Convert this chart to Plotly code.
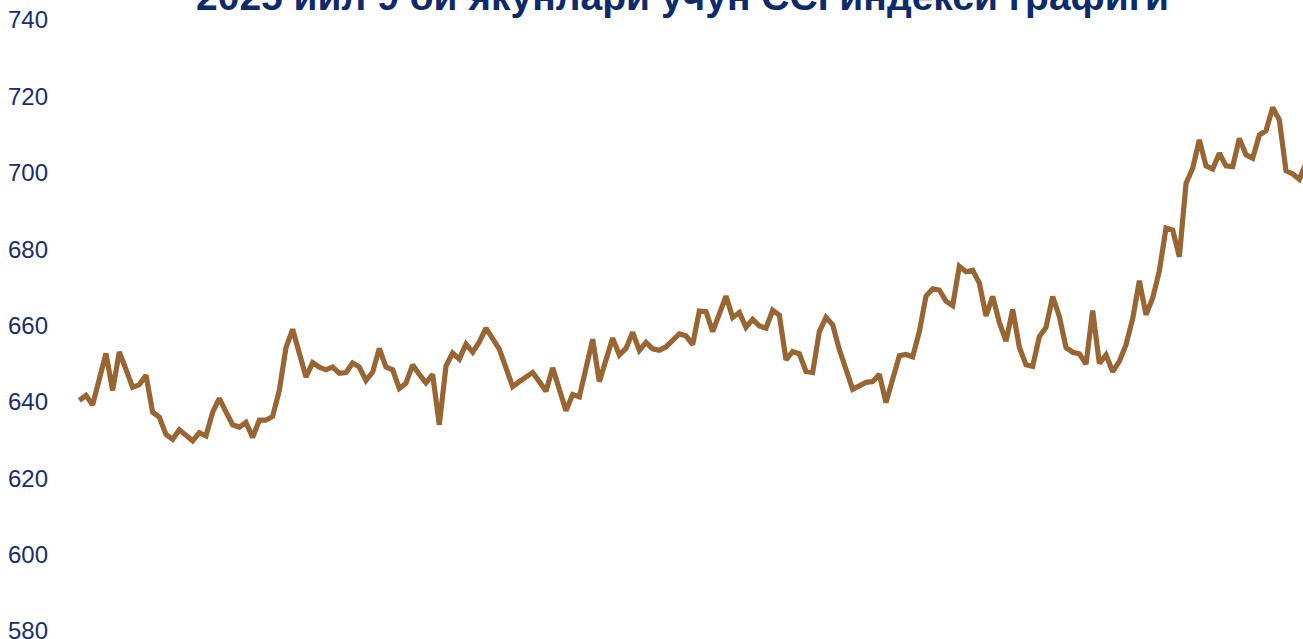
import plotly.graph_objects as go

# Chart title (top half is cropped in the reference)
title_text = "2025 йил 9 ой якунлари учун CCI индекси графиги"

# Weekly CCI index values (in four chunks)
cci_part1 = [640.4, 641.7, 639.2, 645.9, 652.7, 643.0, 653.1, 648.5, 643.8, 644.5,
             647.0, 637.3, 636.0, 631.5, 630.2, 632.7, 631.2, 629.8, 631.9, 631.1,
             637.3, 640.9, 637.4, 634.0, 633.4, 634.6, 630.7, 635.2, 635.2, 636.2,
             643.0, 654.2, 659.0, 652.3, 646.5, 650.3, 649.1, 648.4, 649.1, 647.5,
             647.7, 650.2, 649.1, 645.6, 647.8, 654.0]
cci_part2 = [649.1, 648.4, 643.5, 644.9, 649.7, 647.2, 645.0, 647.2, 634.0, 649.4,
             652.8, 651.2, 655.1, 653.0, 655.7, 659.3, 656.6, 653.8, 648.9, 644.0,
             645.3, 646.6, 647.7, 645.3, 642.8, 648.9, 643.2, 637.7, 641.9, 641.3,
             648.8, 656.4, 645.3, 651.0, 656.7, 652.3, 654.0, 658.2, 653.5, 655.6,
             653.9, 653.5, 654.4, 656.1, 657.8, 657.3]
cci_part3 = [655.0, 663.8, 663.6, 658.4, 662.8, 667.7, 662.1, 663.4, 659.5, 661.6,
             659.9, 659.3, 664.0, 662.7, 651.0, 653.2, 652.6, 648.0, 647.7, 658.4,
             662.1, 660.2, 653.7, 648.2, 643.3, 644.2, 645.1, 645.3, 647.2, 639.8,
             645.7, 652.1, 652.4, 651.8, 658.4, 667.7, 669.6, 669.3, 666.4, 665.2,
             675.5, 674.1, 674.5, 671.1, 662.5, 667.6]
cci_part4 = [660.8, 655.9, 664.2, 654.3, 649.7, 649.3, 657.1, 659.5, 667.6, 662.4,
             654.2, 653.0, 652.6, 649.9, 663.9, 650.1, 652.3, 647.9, 650.6, 655.0,
             661.8, 671.7, 662.8, 667.2, 674.3, 685.5, 685.0, 678.0, 697.2, 701.2,
             708.6, 701.8, 701.0, 705.1, 701.8, 701.6, 709.0, 704.7, 703.8, 709.9,
             711.0, 717.1, 713.8, 700.5, 699.7, 698.3, 702.5]

cci_values = cci_part1 + cci_part2 + cci_part3 + cci_part4
week_index = list(range(len(cci_values)))

y_ticks = [580, 600, 620, 640, 660, 680, 700, 720, 740]

W, H = 1303, 639
left_m, top_m, bot_m = 57, 20, 8
step_px = 6.667
x_start = -(79.3 - left_m) / step_px
x_end = x_start + (W - left_m) / step_px

fig = go.Figure()
fig.add_trace(go.Scatter(
    x=week_index, y=cci_values, mode="lines",
    line=dict(color="#996633", width=5.2, shape="linear"),
    hoverinfo="skip", showlegend=False,
))

fig.update_layout(
    width=W, height=H,
    margin=dict(l=left_m, r=0, t=top_m, b=bot_m, pad=0, autoexpand=False),
    paper_bgcolor="white", plot_bgcolor="white",
    xaxis=dict(range=[x_start, x_end], visible=False, showgrid=False, zeroline=False,
               automargin=False),
    yaxis=dict(range=[580, 740], tickvals=y_ticks, ticktext=[str(v) for v in y_ticks],
               showgrid=False, zeroline=False, showline=False, ticks="",
               tickfont=dict(family="Liberation Sans, Arial", size=24, color="#1A2E6C"),
               ticklabelstandoff=8, ticklabeloverflow="allow", automargin=False),
    font=dict(family="Liberation Sans, Arial"),
    annotations=[dict(
        text="<b>" + title_text + "</b>", xref="paper", yref="paper",
        x=(682 - left_m) / (W - left_m), y=1.0, xanchor="center", yanchor="bottom",
        showarrow=False,
        font=dict(family="Liberation Sans, Arial", size=39, color="#0D2A6B"),
    )],
)

fig.write_html(
    "out.html",
    config={"displayModeBar": False, "staticPlot": True},
    post_script="document.body.style.margin='0';document.body.style.overflow='hidden';",
)
